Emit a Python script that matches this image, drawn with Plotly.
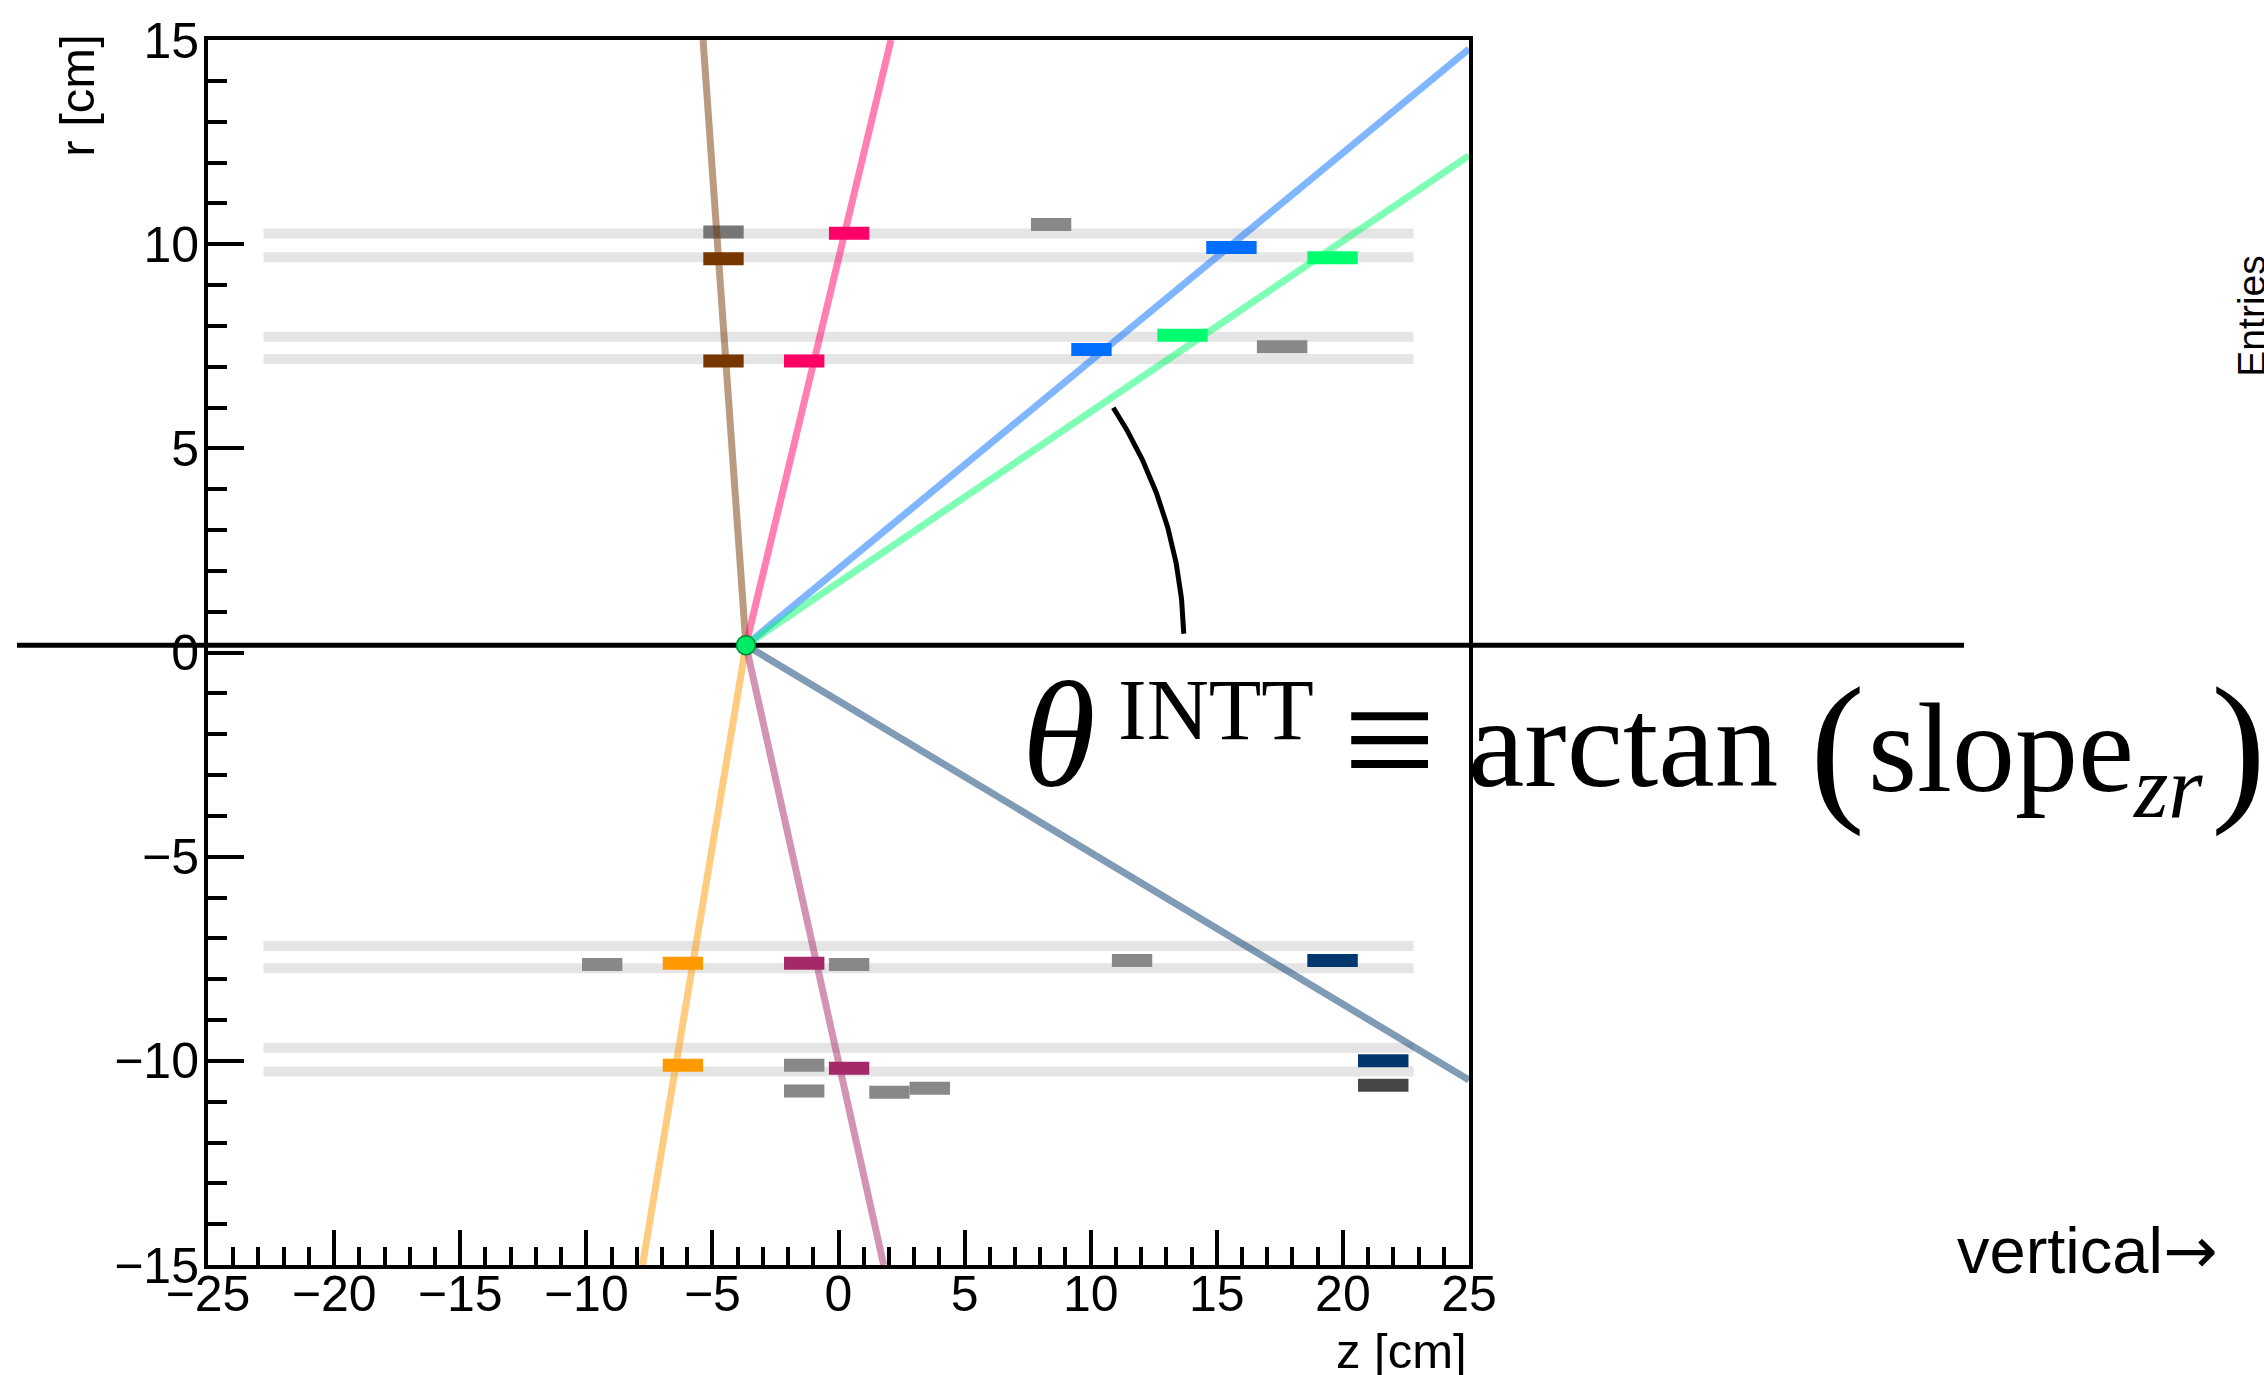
import numpy as np
import plotly.graph_objects as go

# ---------------- data ----------------
Z_RANGE = [-25, 25]
R_RANGE = [-15, 15]
X_TICKS = [-25, -20, -15, -10, -5, 0, 5, 10, 15, 20, 25]
Y_TICKS = [-15, -10, -5, 0, 5, 10, 15]

# INTT ladder radii (drawn at +r and -r) and half length in z
LADDER_R = [7.19, 7.73, 9.68, 10.26]
LADDER_HALF_LEN = 22.8

# reconstructed vertex
VERTEX_Z = -3.67
VERTEX_R = 0.18

# clusters: z centre, r, length in z, colour key
HIT_Z = [-4.56, -4.56, -4.56, 0.42, -1.36, 8.43, 15.58, 19.59, 10.03, 13.64, 17.59,
         -9.37, -6.17, -1.36, 0.42, 11.64, 19.59, -6.17, -1.36, 0.42, -1.36, 2.02, 3.62, 21.60, 21.60]
HIT_R = [10.30, 9.64, 7.14, 10.27, 7.14, 10.48, 9.92, 9.67, 7.42, 7.77, 7.49,
         -7.64, -7.61, -7.61, -7.64, -7.54, -7.54, -10.11, -10.11, -10.18, -10.74, -10.77, -10.67, -10.00, -10.60]
HIT_LEN = [1.6, 1.6, 1.6, 1.6, 1.6, 1.6, 2.0, 2.0, 1.6, 2.0, 2.0,
           1.6, 1.6, 1.6, 1.6, 1.6, 2.0, 1.6, 1.6, 1.6, 1.6, 1.6, 1.6, 2.0, 2.0]
HIT_KEY = ["greymid", "brown", "brown", "pink", "pink", "grey", "blue", "green", "blue", "green", "grey",
           "grey", "orange", "purple", "grey", "grey", "navy", "orange", "grey", "purple", "grey", "grey", "grey",
           "navy", "darkgrey"]

# tracks: from vertex to where they leave the frame
TRACK_KEY = ["brown", "pink", "blue", "green", "navy", "orange", "purple"]
TRACK_END_Z = [-5.37, 2.08, 25.0, 25.0, 25.0, -7.77, 1.79]
TRACK_END_R = [15.0, 15.0, 14.78, 12.17, -10.47, -15.0, -15.0]

COLORS = {
    "grey": (136, 136, 136), "greymid": (118, 118, 118), "darkgrey": (70, 70, 70),
    "brown": (120, 55, 0), "pink": (255, 0, 102), "blue": (0, 110, 255),
    "green": (0, 255, 110), "orange": (255, 153, 0), "purple": (165, 40, 105),
    "navy": (0, 55, 110),
}

# ---------------- layout geometry ----------------
W, H = 2264, 1375
PLOT_L, PLOT_R, PLOT_T, PLOT_B = 208, 1469, 34, 1265
PX_PER_Z = (PLOT_R - PLOT_L) / (Z_RANGE[1] - Z_RANGE[0])
PX_PER_R = (PLOT_B - PLOT_T) / (R_RANGE[1] - R_RANGE[0])


def px(xpix):
    return (xpix - PLOT_L) / (PLOT_R - PLOT_L)


def py(ypix):
    return (PLOT_B - ypix) / (PLOT_B - PLOT_T)


def rgb(key, a=1.0):
    r, g, b = COLORS[key]
    return f"rgba({r},{g},{b},{a})"


fig = go.Figure()

# ladders
lz, lr = [], []
for rad in LADDER_R:
    for s in (1, -1):
        lz += [-LADDER_HALF_LEN, LADDER_HALF_LEN, None]
        lr += [s * rad, s * rad, None]
fig.add_trace(go.Scatter(x=lz, y=lr, mode="lines", line=dict(color="rgb(229,229,229)", width=10),
                         hoverinfo="skip", showlegend=False))

# hits
for key in COLORS:
    hz, hr = [], []
    for z, r, L, k in zip(HIT_Z, HIT_R, HIT_LEN, HIT_KEY):
        if k == key:
            hz += [z - L / 2, z + L / 2, None]
            hr += [r, r, None]
    if hz:
        fig.add_trace(go.Scatter(x=hz, y=hr, mode="lines", line=dict(color=rgb(key), width=13),
                                 hoverinfo="skip", showlegend=False))

# tracks (semi transparent)
for key, ze, re_ in zip(TRACK_KEY, TRACK_END_Z, TRACK_END_R):
    fig.add_trace(go.Scatter(x=[VERTEX_Z, ze], y=[VERTEX_R, re_], mode="lines",
                             line=dict(color=rgb(key, 0.5), width=7),
                             hoverinfo="skip", showlegend=False))

# angle arc (drawn around the vertex in screen space)
ARC_RADIUS_PX = 438
ARC_FROM_DEG, ARC_TO_DEG = 1.5, 33.0
ang = np.radians(np.linspace(ARC_FROM_DEG, ARC_TO_DEG, 80))
fig.add_trace(go.Scatter(x=VERTEX_Z + ARC_RADIUS_PX * np.cos(ang) / PX_PER_Z,
                         y=VERTEX_R + ARC_RADIUS_PX * np.sin(ang) / PX_PER_R,
                         mode="lines", line=dict(color="black", width=5),
                         hoverinfo="skip", showlegend=False))

# horizontal reference line
fig.add_shape(type="line", xref="paper", yref="y", x0=px(17), x1=px(1964), y0=VERTEX_R, y1=VERTEX_R,
              line=dict(color="black", width=5), layer="below")

# vertex
fig.add_trace(go.Scatter(x=[VERTEX_Z], y=[VERTEX_R], mode="markers",
                         marker=dict(color="rgb(0,235,100)", size=19, line=dict(color="rgb(0,140,50)", width=1.5)),
                         hoverinfo="skip", showlegend=False, cliponaxis=False))

SANS = "Liberation Sans, Arial, Helvetica, sans-serif"
SERIF = "Liberation Serif, Times New Roman, serif"
ann = []


def add_text(text, xpix, ypix, size, family, xanchor="center", yanchor="middle", angle=0):
    ann.append(dict(text=text, x=px(xpix), y=py(ypix), xref="paper", yref="paper",
                    xanchor=xanchor, yanchor=yanchor, showarrow=False, textangle=angle,
                    font=dict(size=size, family=family, color="black")))


# axis titles
add_text("r [cm]", 77, 90, 49, SANS, angle=-90)
add_text("z [cm]", 1469, 1351, 49, SANS, xanchor="right")

# formula
F = 127
add_text("<i>θ</i>", 1020, 785 + 0.216 * 150, 150, SERIF, xanchor="left", yanchor="bottom")
add_text("INTT", 1116, 739 + 0.216 * 86, 86, SERIF, xanchor="left", yanchor="bottom")
add_text("≡", 1389, 737, 165, SERIF, xanchor="center", yanchor="middle")
add_text("arctan", 1466, 785 + 0.216 * F, F, SERIF, xanchor="left", yanchor="bottom")
add_text("(", 1837, 837, 165, SERIF, xanchor="center", yanchor="bottom")
add_text("slope<sub><i>zr</i></sub>", 1866, 674, 126, SERIF, xanchor="left", yanchor="top")
add_text(")", 2238, 837, 165, SERIF, xanchor="center", yanchor="bottom")

# side texts
add_text("vertical<span style=\"font-family:DejaVu Sans\">→</span>", 1955, 1250, 65, SANS, xanchor="left")
add_text("Entries", 2252, 312, 39, SANS, angle=-90)

axis_common = dict(showline=True, linewidth=4, linecolor="black", mirror=True, showgrid=False,
                   zeroline=False, ticks="inside", tickwidth=4, tickcolor="black",
                   tickfont=dict(size=50, family=SANS, color="black"))

fig.update_layout(
    width=W, height=H, autosize=False,
    margin=dict(l=PLOT_L, r=W - PLOT_R, t=PLOT_T, b=H - PLOT_B, pad=0),
    paper_bgcolor="white", plot_bgcolor="white",
    showlegend=False,
    annotations=ann,
    xaxis=dict(range=Z_RANGE, tickvals=X_TICKS, ticklen=35, ticklabelstandoff=-18,
               minor=dict(ticks="inside", ticklen=18, tickwidth=4, tickcolor="black", dtick=1, tick0=0, showgrid=False),
               **axis_common),
    yaxis=dict(range=R_RANGE, tickvals=Y_TICKS, ticklen=36, ticklabelstandoff=-5,
               minor=dict(ticks="inside", ticklen=19, tickwidth=4, tickcolor="black", dtick=1, tick0=0, showgrid=False),
               **axis_common),
)

fig.write_html("out.html")
